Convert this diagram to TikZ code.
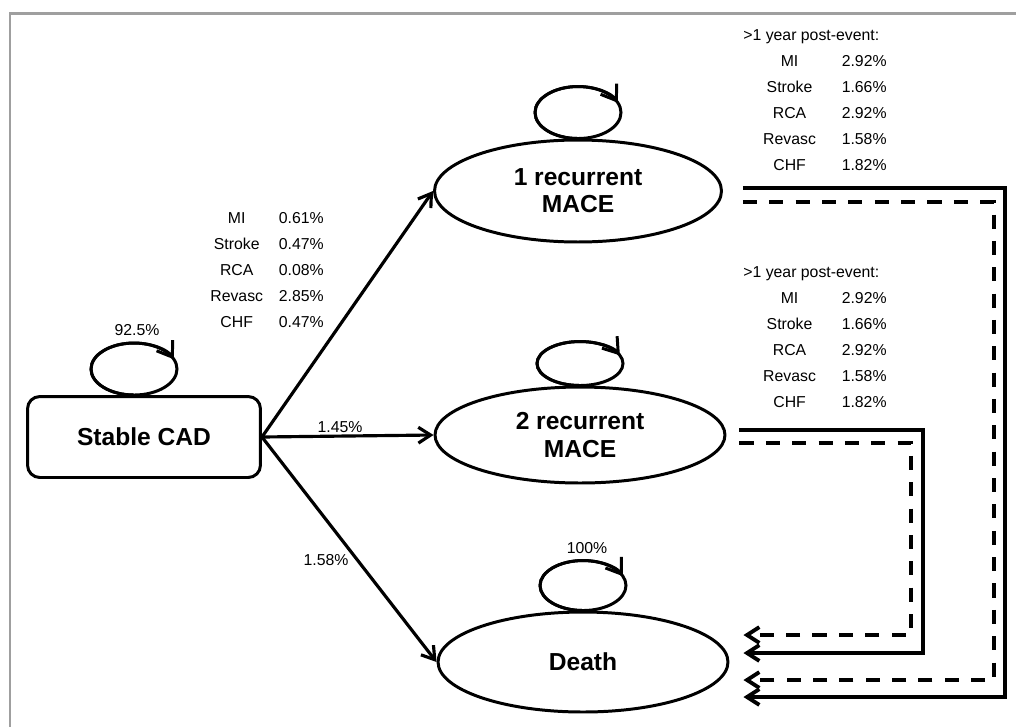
\documentclass[tikz,border=0pt]{standalone}
\usepackage{fontspec}
\setmainfont{Liberation Sans}
\usepackage{tikz}
\usetikzlibrary{arrows.meta, calc, shapes.geometric}

\begin{document}
\begin{tikzpicture}[
      x = 0.02cm, y = -0.02cm,
      state/.style = {draw, ellipse, line width = 1.7pt, minimum width = 5.8cm, minimum height = 2cm, align = center, font = \fontsize{14}{15.5}\selectfont\bfseries},
      lbl/.style = {font = \fontsize{9}{14.7}\selectfont, inner sep = 0pt},
      arr/.style = {line width = 1.8pt, -{Straight Barb[length = 7pt, width = 9pt]}},
      loopline/.style = {line width = 1.7pt},
      back/.style = {line width = 2.2pt, -{Straight Barb[length = 7pt, width = 9pt]}},
      backdash/.style = {back, dash pattern = on 8pt off 7pt}
      ]
      \useasboundingbox (0,0) rectangle (1016,727);
      \draw[gray!75, line width = 1.7pt] (1016,13.5) -| (10,727);

      \node[draw, rounded corners = 7pt, line width = 1.7pt, minimum width = 4.66cm, minimum height = 1.62cm, font = \fontsize{14}{15.5}\selectfont\bfseries] (cad) at (144,437) {Stable CAD};
      \node[state, minimum width = 5.74cm, minimum height = 2.04cm] (mace1) at (578,191) {1 recurrent\\MACE};
      \node[state, minimum height = 1.92cm] (mace2) at (580,435) {2 recurrent\\MACE};
      \node[state] (death) at (583,662) {Death};

      % self loops
      \foreach \n/\dx/\ry in {cad/-0.2/0.52, mace1/0/0.52, mace2/0/0.44, death/0/0.5} {
            \draw[loopline] ([xshift = \dx cm, yshift = \ry cm]\n.north) ellipse [x radius = 0.86cm, y radius = \ry cm];
            \draw[loopline, -{Straight Barb[length = 8pt, width = 11pt]}] ([xshift = \dx cm]\n.north) arc [start angle = -90, end angle = -338, x radius = 0.86cm, y radius = \ry cm];
      }

      \draw[arr] (cad.east) -- (mace1.west);
      \draw[arr] (cad.east) -- (mace2.west);
      \draw[arr] (cad.east) -- (death.west);

      \node[lbl] (p925) at (137,330) {92.5\%};
      \node[lbl] (p145) at (340,427) {1.45\%};
      \node[lbl] (p158) at (326,560) {1.58\%};
      \node[lbl] (p100) at (587,548) {100\%};

      \node[lbl, anchor = north west] (rates) at (210,205.5) {\begin{tabular}{@{}c@{\hspace{9pt}}l@{}}
            MI & 0.61\%\\ Stroke & 0.47\%\\ RCA & 0.08\%\\ Revasc & 2.85\%\\ CHF & 0.47\%
      \end{tabular}};
      \node[lbl, anchor = north west] (post1) at (743,22.5) {\begin{tabular}{@{\hspace{11.3pt}}c@{\hspace{14.7pt}}l@{}}
            \multicolumn{2}{@{}l@{}}{>1 year post-event:}\\
            MI & 2.92\%\\ Stroke & 1.66\%\\ RCA & 2.92\%\\ Revasc & 1.58\%\\ CHF & 1.82\%
      \end{tabular}};
      \node[lbl, anchor = north west] (post2) at (743,259.5) {\begin{tabular}{@{\hspace{11.3pt}}c@{\hspace{14.7pt}}l@{}}
            \multicolumn{2}{@{}l@{}}{>1 year post-event:}\\
            MI & 2.92\%\\ Stroke & 1.66\%\\ RCA & 2.92\%\\ Revasc & 1.58\%\\ CHF & 1.82\%
      \end{tabular}};

      % lines back to death
      \draw[back] ($(mace1.east)+(20,-3)$) -| (1005,697) -- ($(death.east)+(14,35)$);
      \draw[backdash] ($(mace1.east)+(20,11)$) -| (994,680) -- ($(death.east)+(14,18)$);
      \draw[back] ($(mace2.east)+(13,-5)$) -| (923,653) -- ($(death.east)+(14,-9)$);
      \draw[backdash] ($(mace2.east)+(13,8)$) -| (911,635) -- ($(death.east)+(14,-27)$);
\end{tikzpicture}
\end{document}
